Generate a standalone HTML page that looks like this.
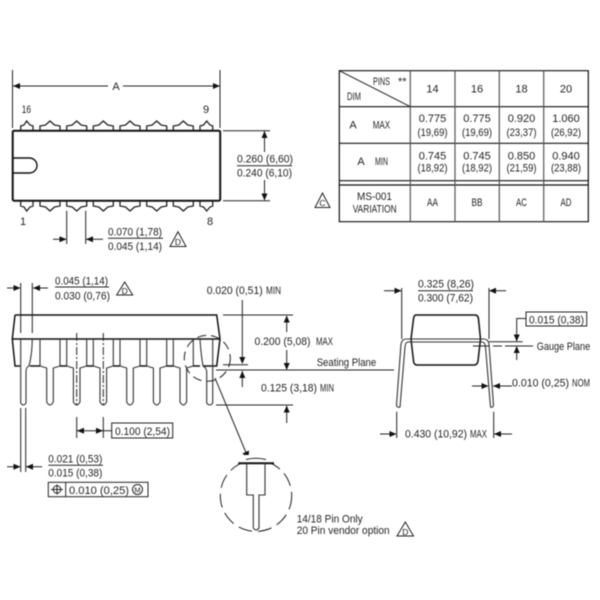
<!DOCTYPE html>
<html>
<head>
<meta charset="utf-8">
<style>
html,body{margin:0;padding:0;background:#fff;width:600px;height:600px;overflow:hidden}
svg{display:block;filter:blur(0.4px)}
text{font-family:"Liberation Sans",sans-serif;font-size:11px;fill:#222;stroke:none}
.t{text-anchor:middle}
.s{font-size:8.5px}
.l{fill:none;stroke:#222;stroke-width:1}
.m{fill:none;stroke:#111;stroke-width:2}
.p{fill:none;stroke:#222;stroke-width:1.3}
.g{fill:none;stroke:#333;stroke-width:1.1}
.a{fill:#111;stroke:none}
</style>
</head>
<body>
<svg width="600" height="600" viewBox="0 0 600 600" xmlns="http://www.w3.org/2000/svg">
<defs>
<path id="pt" d="M-10,130V126L-4.5,125L0,121L4.5,125L10,126V130" class="p"/>
<path id="pb" d="M-10,201V206L-4.5,207L0,211L4.5,207L10,206V201" class="p"/>
<path id="ar" d="M0,0L-7,-3V3Z" class="a"/>
<path id="al" d="M0,0L7,-3V3Z" class="a"/>
<path id="au" d="M0,0L-3,7H3Z" class="a"/>
<path id="ad" d="M0,0L-3,-7H3Z" class="a"/>
</defs>

<!-- TOP VIEW -->
<path class="l" d="M12.5,70V128M220,70V128M12.5,86H108M123,86H220"/>
<use href="#al" x="13" y="86"/><use href="#ar" x="220" y="86"/>
<text x="116" y="90" class="t">A</text>
<text x="21.7" y="113" textLength="9.3" lengthAdjust="spacingAndGlyphs">16</text>
<text x="203" y="113">9</text>
<text x="20" y="225">1</text>
<text x="207" y="225">8</text>
<path class="p" d="M20.7,130V126L24,125L26.7,121L30,125L33,126V130M200,130V126L203.5,125L206.7,121L210,125L212.7,126V130"/>
<use href="#pt" x="50"/><use href="#pt" x="76.7"/><use href="#pt" x="103.3"/><use href="#pt" x="130"/><use href="#pt" x="156.7"/><use href="#pt" x="183.3"/>
<path class="p" d="M20.7,201V206L24,207L26.7,211L30,207L33,206V201M200,201V206L203.5,207L206.7,211L210,207L212.7,206V201"/>
<use href="#pb" x="50"/><use href="#pb" x="76.7"/><use href="#pb" x="103.3"/><use href="#pb" x="130"/><use href="#pb" x="156.7"/><use href="#pb" x="183.3"/>
<rect x="12.7" y="130.7" width="207.5" height="70" rx="1.5" class="m" style="fill:#fff"/>
<path class="m" style="stroke-width:1.4" d="M12.7,158H29.5A7.5,7.5 0 0 1 29.5,173H12.7"/>
<path class="l" d="M223,130.7H270M223,200.7H270M264.5,131V152M264.5,180V200"/>
<use href="#au" x="264.5" y="131"/><use href="#ad" x="264.5" y="200.5"/>
<text x="237" y="162.7" textLength="56" lengthAdjust="spacingAndGlyphs">0.260 (6,60)</text>
<path class="l" d="M237,165.7H292"/>
<text x="237" y="176.7" textLength="55" lengthAdjust="spacingAndGlyphs">0.240 (6,10)</text>
<path class="l" d="M66.7,210.7V244M85.7,210.7V244M53,239.3H66M86,239.3H103"/>
<use href="#ar" x="66.5" y="239.3"/><use href="#al" x="86" y="239.3"/>
<text x="108" y="235.7" textLength="54" lengthAdjust="spacingAndGlyphs">0.070 (1,78)</text>
<path class="l" d="M108,238.3H163"/>
<text x="108" y="250" textLength="54" lengthAdjust="spacingAndGlyphs">0.045 (1,14)</text>
<path class="l" d="M178,231.7L186,246.5H170Z"/>
<text x="178" y="245" class="t s">D</text>

<!-- TABLE -->
<path class="m" style="stroke-width:1.2" d="M339.3,70.7H588.3V221.7H339.3ZM339.3,106.7H588.3M339.3,143.3H588.3M339.3,180.7H588.3M339.3,185H588.3"/>
<path class="m" style="stroke-width:1.2;stroke:#555" d="M410.3,70.7V221.7M455,70.7V221.7M499.3,70.7V221.7M543.7,70.7V221.7"/>
<path class="l" d="M339.3,70.7L410.3,106.7"/>
<text x="373" y="85" textLength="17" lengthAdjust="spacingAndGlyphs">PINS</text>
<text x="398" y="85">**</text>
<text x="347" y="100" textLength="14" lengthAdjust="spacingAndGlyphs">DIM</text>
<text x="432.5" y="92.3" class="t">14</text><text x="477" y="92.3" class="t">16</text><text x="521.5" y="92.3" class="t">18</text><text x="566" y="92.3" class="t">20</text>
<text x="353" y="128.3" class="t">A</text><text x="372.7" y="128.3" textLength="17.5" lengthAdjust="spacingAndGlyphs">MAX</text>
<text x="361" y="165" class="t">A</text><text x="375" y="165" textLength="13" lengthAdjust="spacingAndGlyphs">MIN</text>
<text x="432.5" y="122" class="t">0.775</text><text x="477" y="122" class="t">0.775</text><text x="521.5" y="122" class="t">0.920</text><text x="566" y="122" class="t">1.060</text>
<text x="432.5" y="136" class="t" textLength="30" lengthAdjust="spacingAndGlyphs">(19,69)</text><text x="477" y="136" class="t" textLength="30" lengthAdjust="spacingAndGlyphs">(19,69)</text><text x="521.5" y="136" class="t" textLength="30" lengthAdjust="spacingAndGlyphs">(23,37)</text><text x="566" y="136" class="t" textLength="30" lengthAdjust="spacingAndGlyphs">(26,92)</text>
<text x="432.5" y="159.3" class="t">0.745</text><text x="477" y="159.3" class="t">0.745</text><text x="521.5" y="159.3" class="t">0.850</text><text x="566" y="159.3" class="t">0.940</text>
<text x="432.5" y="171.7" class="t" textLength="30" lengthAdjust="spacingAndGlyphs">(18,92)</text><text x="477" y="171.7" class="t" textLength="30" lengthAdjust="spacingAndGlyphs">(18,92)</text><text x="521.5" y="171.7" class="t" textLength="30" lengthAdjust="spacingAndGlyphs">(21,59)</text><text x="566" y="171.7" class="t" textLength="30" lengthAdjust="spacingAndGlyphs">(23,88)</text>
<text x="357" y="200" textLength="35" lengthAdjust="spacingAndGlyphs">MS-001</text>
<text x="352.7" y="212.7" textLength="44" lengthAdjust="spacingAndGlyphs">VARIATION</text>
<text x="432.5" y="206" class="t" textLength="11" lengthAdjust="spacingAndGlyphs">AA</text><text x="477" y="206" class="t" textLength="11" lengthAdjust="spacingAndGlyphs">BB</text><text x="521.5" y="206" class="t" textLength="11" lengthAdjust="spacingAndGlyphs">AC</text><text x="566" y="206" class="t" textLength="11" lengthAdjust="spacingAndGlyphs">AD</text>
<path class="l" d="M322.5,193L330,207.5H315Z"/>
<text x="322.5" y="206" class="t s">C</text>

<!-- SIDE VIEW -->
<path class="m" style="stroke-width:1.5" d="M15,315H216.7L220,339L216.7,366H203M15,315L12.3,339L15,366H20M12.3,339H220"/>
<path class="g" d="M40,339V366L46.7,368V402Q50,408 53.3,402V368L60,366V339"/>
<path class="g" d="M66.7,339V366L73.4,368V402Q76.7,408 80,402V368L86.7,366V339"/>
<path class="g" d="M93.3,339V366L100,368V402Q103.3,408 106.6,402V368L113.3,366V339"/>
<path class="g" d="M120,339V366L126.7,368V402Q130,408 133.3,402V368L140,366V339"/>
<path class="g" d="M146.7,339V366L153.4,368V402Q156.7,408 160,402V368L166.7,366V339"/>
<path class="g" d="M173.3,339V366L180,368V402Q183.3,408 186.6,402V368L193.3,366V339"/>
<path class="m" style="stroke-width:1.5" d="M30,366H40M60,366H66.7M86.7,366H93.3M113.3,366H120M140,366H146.7M166.7,366H173.3M193.3,366H200"/>
<path class="g" d="M20.7,339V403Q23.3,407 26,403V372Q26,367 29,366Q32,355 32.3,339M200,339Q201,355 203,366Q206.7,368 206.7,372V403Q210,407 212.7,403V339"/>
<path class="l" d="M20.7,283V333M32.3,283V333M7,288H20M33,288H48"/>
<use href="#ar" x="20.5" y="288"/><use href="#al" x="33" y="288"/>
<text x="55" y="284.5" textLength="53" lengthAdjust="spacingAndGlyphs">0.045 (1,14)</text>
<path class="l" d="M55,287H109"/>
<text x="55" y="299.3" textLength="55" lengthAdjust="spacingAndGlyphs">0.030 (0,76)</text>
<path class="l" d="M124.7,282L132.7,295H116.7Z"/>
<text x="124.7" y="294" class="t s">D</text>
<path class="l" stroke-dasharray="8 2 2 2" d="M76.7,333V405M103.3,333V405"/>
<path class="l" d="M76.7,417V438M103.3,417V438M77,430.7H111.7"/>
<use href="#al" x="77" y="430.7"/><use href="#ar" x="103" y="430.7"/>
<rect class="l" x="111.7" y="423" width="61" height="15"/>
<text x="115" y="435" textLength="55" lengthAdjust="spacingAndGlyphs">0.100 (2,54)</text>
<path class="l" d="M20.7,408V472M25.7,408V472M7,466.7H20M26,466.7H42"/>
<use href="#ar" x="20.5" y="466.7"/><use href="#al" x="26" y="466.7"/>
<text x="48.3" y="462.5" textLength="54" lengthAdjust="spacingAndGlyphs">0.021 (0,53)</text>
<path class="l" d="M48.3,465.3H103"/>
<text x="48.3" y="476.3" textLength="54" lengthAdjust="spacingAndGlyphs">0.015 (0,38)</text>
<rect class="l" x="48.3" y="482.3" width="99.7" height="14.4"/>
<path class="l" d="M65.7,482.3V496.7"/>
<circle class="l" cx="57" cy="489.5" r="3.8"/>
<path class="l" d="M51,489.5H63M57,484.5V494.5"/>
<text x="69" y="494" textLength="60" lengthAdjust="spacingAndGlyphs">0.010 (0,25)</text>
<circle class="l" cx="137.5" cy="489.5" r="5"/>
<text x="137.5" y="492.5" class="t" style="font-size:7.5px">M</text>
<circle class="l" cx="207.3" cy="358.3" r="23" stroke-dasharray="9 5"/>
<path class="l" d="M215,378L247,455"/>
<path class="a" d="M248.5,459.5L242.5,453.5L249,450.5Z"/>

<!-- DIMENSIONS RIGHT OF SIDE VIEW -->
<text x="206.7" y="294" textLength="56" lengthAdjust="spacingAndGlyphs">0.020 (0,51)</text>
<text x="266" y="294" textLength="15" lengthAdjust="spacingAndGlyphs">MIN</text>
<path class="l" d="M242.3,300V358M223,315H293M223,364.7H248M216,370H394M242.3,371V387M216,405H293M286.7,316V332M286.7,350V369M286.7,406V423"/>
<use href="#ad" x="242.3" y="364"/><use href="#au" x="242.3" y="371"/>
<use href="#au" x="286.7" y="315.5"/><use href="#ad" x="286.7" y="370"/><use href="#au" x="286.7" y="405.5"/>
<text x="254.5" y="345" textLength="56" lengthAdjust="spacingAndGlyphs">0.200 (5,08)</text>
<text x="316" y="345" textLength="17" lengthAdjust="spacingAndGlyphs">MAX</text>
<text x="261" y="391.7" textLength="56" lengthAdjust="spacingAndGlyphs">0.125 (3,18)</text>
<text x="320" y="391.7" textLength="14" lengthAdjust="spacingAndGlyphs">MIN</text>
<text x="316.7" y="366" textLength="59.5" lengthAdjust="spacingAndGlyphs">Seating Plane</text>

<!-- DETAIL -->
<circle class="l" cx="256" cy="495.7" r="35.7" stroke-dasharray="14 6"/>
<rect x="236" y="455" width="40" height="8" fill="#fff"/>
<path class="l" d="M246,459.5Q256,457 266,459.5"/>
<path class="m" d="M238.3,463.3H274"/>
<path class="g" d="M246.7,463.3V495H253.3V528Q256,532 259,528V495H265V463.3"/>
<text x="296.7" y="522.3" textLength="66" lengthAdjust="spacingAndGlyphs">14/18 Pin Only</text>
<text x="296.7" y="534" textLength="93" lengthAdjust="spacingAndGlyphs">20 Pin vendor option</text>
<path class="l" d="M405.3,522L413.5,536H397Z"/>
<text x="405.3" y="535" class="t s">D</text>

<!-- END VIEW -->
<path class="m" style="stroke-width:1.5" d="M416,315H475Q478,315 478.5,319L480.5,339L478,361Q477.5,365 474,365H417Q414,365 413.5,361L411,339L413.5,319Q414,315 416,315Z"/>
<path class="g" d="M412,339H479M412,342H479"/>
<path class="g" d="M412,339H406Q402,339 401,344L396.5,405Q397,408 400,407L405,347Q405.5,342 408,342H412M479,339H484Q488,339 489,344L493.5,405Q493,408 490.5,407L485.5,347Q485,342 482,342H479"/>
<path class="l" d="M401.7,288V339M489,288V339M384,290.7H401M490,290.7H506"/>
<use href="#ar" x="401.5" y="290.7"/><use href="#al" x="489" y="290.7"/>
<text x="418" y="287.7" textLength="56" lengthAdjust="spacingAndGlyphs">0.325 (8,26)</text>
<path class="l" d="M418,290.7H473"/>
<text x="418" y="301.7" textLength="55" lengthAdjust="spacingAndGlyphs">0.300 (7,62)</text>
<rect class="l" x="526" y="312" width="60.7" height="14"/>
<text x="529" y="323.5" textLength="55" lengthAdjust="spacingAndGlyphs">0.015 (0,38)</text>
<path class="l" d="M526,318.5H516.7V341M489,341.7H522.7M516.7,347V360"/>
<use href="#ad" x="516.7" y="341.5"/><use href="#au" x="516.7" y="346"/>
<path class="l" d="M473,346H489M493,346H502M505,346H533"/>
<text x="536.7" y="350" textLength="53.5" lengthAdjust="spacingAndGlyphs">Gauge Plane</text>
<path class="l" d="M472,386H488M493,386H512"/>
<use href="#ar" x="488.5" y="386"/><use href="#al" x="493" y="386"/>
<text x="512" y="386.7" textLength="57" lengthAdjust="spacingAndGlyphs">0.010 (0,25)</text>
<text x="572" y="386.7" textLength="18" lengthAdjust="spacingAndGlyphs">NOM</text>
<path class="l" d="M396.7,411.7V438M493.7,411.7V438M380,434H396M494,434H512"/>
<use href="#ar" x="396.5" y="434"/><use href="#al" x="494" y="434"/>
<text x="405" y="437.7" textLength="62" lengthAdjust="spacingAndGlyphs">0.430 (10,92)</text>
<text x="470" y="437.7" textLength="17" lengthAdjust="spacingAndGlyphs">MAX</text>
</svg>
</body>
</html>
